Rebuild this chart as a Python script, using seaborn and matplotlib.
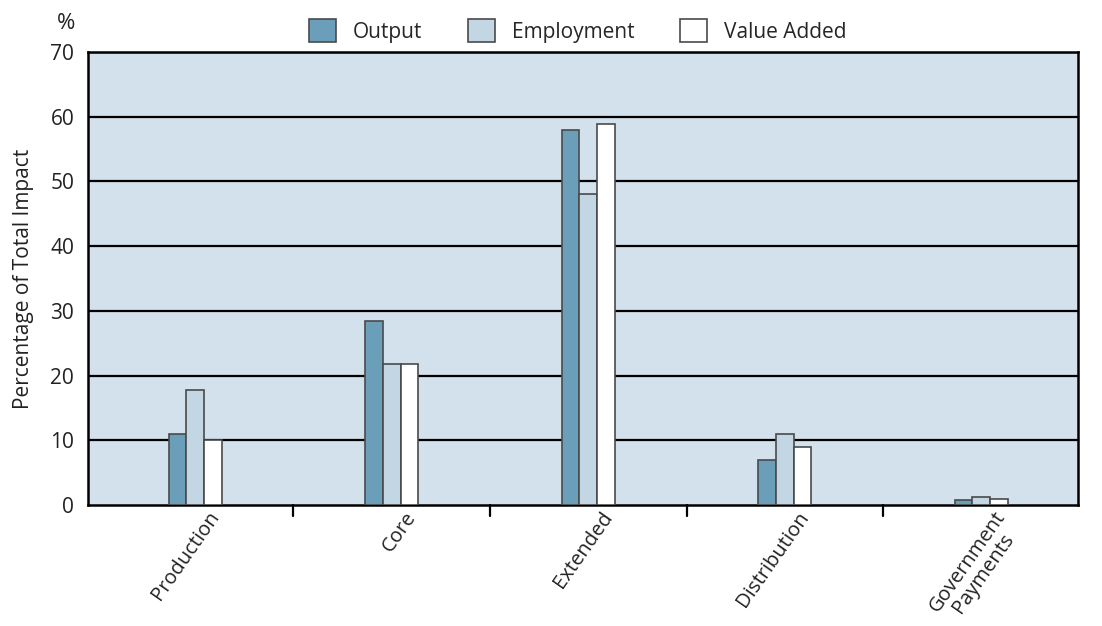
import matplotlib
matplotlib.use("Agg")
import matplotlib.pyplot as plt
import matplotlib.transforms as mtransforms
import seaborn as sns
import pandas as pd

categories = ["Production", "Core", "Extended", "Distribution", "Government\nPayments"]
series = ["Output", "Employment", "Value Added"]
output_vals = [11.0, 28.4, 58.0, 7.0, 0.7]
employment_vals = [17.8, 21.8, 48.1, 10.9, 1.3]
value_added_vals = [10.0, 21.8, 58.9, 9.0, 0.9]
y_ticks = [0, 10, 20, 30, 40, 50, 60, 70]

palette = {"Output": "#6a9eb9", "Employment": "#c2d6e4", "Value Added": "#ffffff"}

df = pd.DataFrame({
    "category": categories * 3,
    "series": [s for s in series for _ in categories],
    "value": output_vals + employment_vals + value_added_vals,
})

sns.set_style("white")
plt.rcParams["font.family"] = ["Open Sans", "DejaVu Sans"]

fig = plt.figure(figsize=(11.02, 6.26), dpi=100)
ax = fig.add_axes([0.0799, 0.1933, 0.898, 0.7237])
ax.set_facecolor("#d3e1ec")

sns.barplot(data=df, x="category", y="value", hue="series", hue_order=series,
            order=categories, palette=palette, saturation=1, width=0.27, dodge=True,
            edgecolor="#4a4a4a", linewidth=1.2, ax=ax, legend=True, zorder=3)

ax.set_ylim(0, 70)
ax.set_xlim(-0.545, 4.49)
ax.set_yticks(y_ticks)
ax.set_yticklabels([str(t) for t in y_ticks], fontsize=15, color="#222222")
for t in y_ticks[1:]:
    ax.axhline(t, color="black", lw=1.6, zorder=1)

# category labels at bar centres, tick marks on group boundaries
ax.set_xticks(range(len(categories)))
ax.set_xticklabels(categories, rotation=55, ha="right", rotation_mode="anchor",
                   fontsize=14.5, color="#222222", linespacing=0.95,
                   multialignment="center")
ax.tick_params(axis="x", length=0, pad=2)
ax.tick_params(axis="y", length=0, pad=10)
shift = mtransforms.ScaledTranslation(12 / 100, 0, fig.dpi_scale_trans)
for lbl in ax.get_xticklabels():
    lbl.set_transform(lbl.get_transform() + shift)
for b in [0.5, 1.5, 2.5, 3.5]:
    ax.plot([b, b], [0, -0.025], transform=ax.get_xaxis_transform(),
            color="black", lw=1.6, clip_on=False)

for sp in ax.spines.values():
    sp.set_visible(True)
    sp.set_color("black")
    sp.set_linewidth(1.8)

ax.set_xlabel("")
ax.set_ylabel("Percentage of Total Impact", fontsize=15, color="#222222", labelpad=12)
ax.text(-0.022, 1.04, "%", transform=ax.transAxes, fontsize=16, color="#222222",
        ha="center", va="bottom")

handles, labels = ax.get_legend_handles_labels()
ax.legend(handles, labels, loc="lower center", bbox_to_anchor=(0.495, 1.0), ncol=3,
          frameon=False, fontsize=15, handlelength=1.3, handleheight=1.3,
          columnspacing=2.2, handletextpad=0.8, borderaxespad=0.05)

fig.savefig("out.png", dpi=100)
